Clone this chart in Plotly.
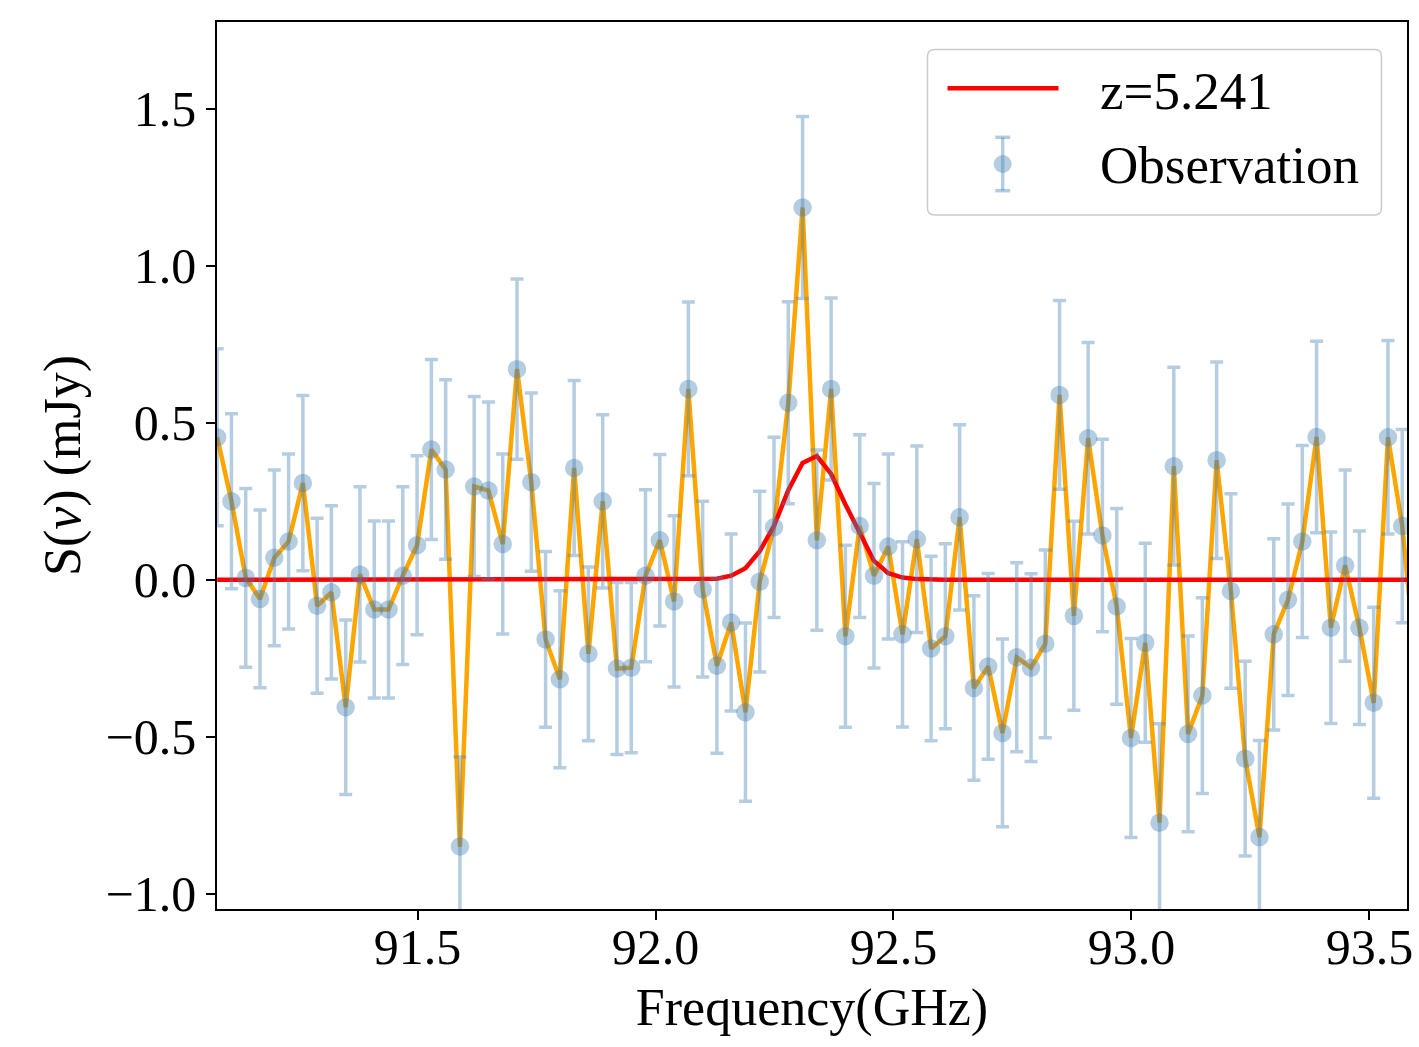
import plotly.graph_objects as go

# ---------------- data ----------------
freq_ghz = [
    91.079, 91.109, 91.139, 91.169, 91.199, 91.229, 91.259, 91.289, 91.319, 91.349,
    91.379, 91.409, 91.439, 91.469, 91.499, 91.529, 91.559, 91.589, 91.619, 91.649,
    91.679, 91.709, 91.739, 91.769, 91.799, 91.829, 91.859, 91.889, 91.919, 91.949,
    91.979, 92.009, 92.039, 92.069, 92.099, 92.129, 92.159, 92.189, 92.219, 92.249,
    92.279, 92.309, 92.339, 92.369, 92.399, 92.429, 92.459, 92.489, 92.519, 92.549,
    92.579, 92.609, 92.639, 92.669, 92.699, 92.729, 92.759, 92.789, 92.819, 92.849,
    92.879, 92.909, 92.939, 92.969, 92.999, 93.029, 93.059, 93.089, 93.119, 93.149,
    93.179, 93.209, 93.239, 93.269, 93.299, 93.329, 93.359, 93.389, 93.419, 93.449,
    93.479, 93.509, 93.539, 93.569, 93.599,
]

flux_mjy = [
    0.454, 0.250, 0.006, -0.061, 0.070, 0.122, 0.308, -0.083, -0.040, -0.406,
    0.017, -0.095, -0.095, 0.013, 0.110, 0.415, 0.351, -0.850, 0.297, 0.284,
    0.114, 0.671, 0.311, -0.190, -0.317, 0.356, -0.236, 0.250, -0.283, -0.280,
    0.013, 0.126, -0.069, 0.608, -0.030, -0.274, -0.136, -0.422, -0.006, 0.167,
    0.564, 1.186, 0.126, 0.608, -0.180, 0.171, 0.013, 0.106, -0.174, 0.129,
    -0.219, -0.180, 0.199, -0.345, -0.276, -0.488, -0.247, -0.280, -0.204, 0.589,
    -0.115, 0.451, 0.141, -0.085, -0.504, -0.201, -0.774, 0.362, -0.491, -0.369,
    0.381, -0.036, -0.570, -0.820, -0.174, -0.064, 0.122, 0.455, -0.153, 0.045,
    -0.153, -0.392, 0.454, 0.171, -0.290,
]

flux_err_mjy = [
    0.282, 0.279, 0.285, 0.283, 0.280, 0.279, 0.279, 0.279, 0.276, 0.278,
    0.279, 0.282, 0.282, 0.283, 0.285, 0.287, 0.286, 0.285, 0.287, 0.282,
    0.287, 0.287, 0.284, 0.280, 0.282, 0.279, 0.277, 0.276, 0.274, 0.271,
    0.274, 0.273, 0.273, 0.277, 0.280, 0.279, 0.282, 0.284, 0.288, 0.287,
    0.322, 0.290, 0.287, 0.290, 0.290, 0.291, 0.294, 0.295, 0.295, 0.297,
    0.294, 0.295, 0.295, 0.294, 0.296, 0.299, 0.301, 0.299, 0.299, 0.301,
    0.301, 0.305, 0.307, 0.312, 0.317, 0.317, 0.315, 0.315, 0.312, 0.312,
    0.313, 0.310, 0.310, 0.308, 0.305, 0.305, 0.306, 0.305, 0.305, 0.305,
    0.308, 0.304, 0.308, 0.308, 0.308,
]

model_mjy = [
    0.0, 0.0, 0.0, 0.0, 0.0, 0.0, 0.0, 0.0, 0.0, 0.0,
    0.0, 0.0, 0.0, 0.0, 0.0, 0.0, 0.0, 0.0, 0.0, 0.0,
    0.0, 0.0, 0.0, 0.0, 0.0, 0.0, 0.0, 0.0, 0.0, 0.0,
    0.0, 0.0, 0.0, 0.0, 0.001, 0.003, 0.013, 0.037, 0.091, 0.172,
    0.285, 0.372, 0.394, 0.337, 0.240, 0.150, 0.060, 0.021, 0.007, 0.002,
    0.0, 0.0, 0.0, 0.0, 0.0, 0.0, 0.0, 0.0, 0.0, 0.0,
    0.0, 0.0, 0.0, 0.0, 0.0, 0.0, 0.0, 0.0, 0.0, 0.0,
    0.0, 0.0, 0.0, 0.0, 0.0, 0.0, 0.0, 0.0, 0.0, 0.0,
    0.0, 0.0, 0.0, 0.0, 0.0,
]

x_tick_vals = [91.5, 92.0, 92.5, 93.0, 93.5]
x_tick_text = ["91.5", "92.0", "92.5", "93.0", "93.5"]
y_tick_vals = [-1.0, -0.5, 0.0, 0.5, 1.0, 1.5]
y_tick_text = ["\u22121.0", "\u22120.5", "0.0", "0.5", "1.0", "1.5"]
legend_labels = ["z=5.241", "Observation"]
x_title = "Frequency(GHz)"
y_title = "S(<i>\u03bd</i>) (mJy)"

# ---------------- styling / layout ----------------
FONT = "Liberation Serif"
FIG_W, FIG_H = 1419, 1047
M_L, M_R, M_T, M_B = 217, 12, 22, 138
PW = FIG_W - M_L - M_R
PH = FIG_H - M_T - M_B
OBS_COLOR = "rgba(70,130,180,0.4)"


def px_x(p):
    return (p - M_L) / PW


def px_y(p):
    return (FIG_H - M_B - p) / PH


fig = go.Figure()

fig.add_trace(go.Scatter(
    x=freq_ghz, y=flux_mjy, mode="lines",
    line=dict(color="orange", width=4.5), showlegend=False, hoverinfo="skip",
))
fig.add_trace(go.Scatter(
    x=freq_ghz, y=model_mjy, mode="lines", name=legend_labels[0],
    line=dict(color="red", width=4.5), showlegend=False,
))
fig.add_trace(go.Scatter(
    x=freq_ghz, y=flux_mjy, mode="markers", name=legend_labels[1],
    marker=dict(color=OBS_COLOR, size=18.5, line=dict(width=0)),
    error_y=dict(type="data", array=flux_err_mjy, visible=True,
                 color=OBS_COLOR, thickness=3.5, width=6.5),
    showlegend=False,
))

shapes = []
# legend box with rounded corners
bx0, bx1, by0, by1, r = 927.5, 1381.5, 49.5, 215.0, 7
path = (
    f"M {px_x(bx0 + r)},{px_y(by0)} L {px_x(bx1 - r)},{px_y(by0)} "
    f"Q {px_x(bx1)},{px_y(by0)} {px_x(bx1)},{px_y(by0 + r)} "
    f"L {px_x(bx1)},{px_y(by1 - r)} "
    f"Q {px_x(bx1)},{px_y(by1)} {px_x(bx1 - r)},{px_y(by1)} "
    f"L {px_x(bx0 + r)},{px_y(by1)} "
    f"Q {px_x(bx0)},{px_y(by1)} {px_x(bx0)},{px_y(by1 - r)} "
    f"L {px_x(bx0)},{px_y(by0 + r)} "
    f"Q {px_x(bx0)},{px_y(by0)} {px_x(bx0 + r)},{px_y(by0)} Z"
)
shapes.append(dict(type="path", xref="paper", yref="paper", path=path,
                   fillcolor="rgba(255,255,255,0.8)",
                   line=dict(color="rgb(204,204,204)", width=1.5), layer="above"))
# red line sample
shapes.append(dict(type="line", xref="paper", yref="paper",
                   x0=px_x(947.5), x1=px_x(1058.5), y0=px_y(88.3), y1=px_y(88.3),
                   line=dict(color="red", width=4.5), layer="above"))
# observation sample: error bar + caps + marker
mx, my, eh, cw = 1002.7, 164.0, 26.7, 7.5
shapes.append(dict(type="line", xref="paper", yref="paper",
                   x0=px_x(mx), x1=px_x(mx), y0=px_y(my - eh), y1=px_y(my + eh),
                   line=dict(color=OBS_COLOR, width=3.5), layer="above"))
for yy in (my - eh, my + eh):
    shapes.append(dict(type="line", xref="paper", yref="paper",
                       x0=px_x(mx - cw), x1=px_x(mx + cw), y0=px_y(yy), y1=px_y(yy),
                       line=dict(color=OBS_COLOR, width=3.5), layer="above"))
shapes.append(dict(type="circle", xref="paper", yref="paper",
                   x0=px_x(mx - 9), x1=px_x(mx + 9), y0=px_y(my - 9), y1=px_y(my + 9),
                   fillcolor=OBS_COLOR, line=dict(width=0), layer="above"))

annotations = [
    dict(text=legend_labels[0], xref="paper", yref="paper", x=px_x(1098), y=px_y(90.6),
         xanchor="left", yanchor="middle", showarrow=False,
         font=dict(family=FONT, size=53, color="black")),
    dict(text=legend_labels[1], xref="paper", yref="paper", x=px_x(1098), y=px_y(165),
         xanchor="left", yanchor="middle", showarrow=False,
         font=dict(family=FONT, size=53, color="black")),
]

axis_common = dict(
    showline=True, mirror=True, linecolor="black", linewidth=1.5,
    ticks="outside", ticklen=9, tickwidth=1.5, tickcolor="black",
    showgrid=False, zeroline=False,
    tickfont=dict(family=FONT, size=50, color="black"),
)

fig.update_layout(
    width=FIG_W, height=FIG_H,
    margin=dict(l=M_L, r=M_R, t=M_T, b=M_B, pad=0),
    paper_bgcolor="white", plot_bgcolor="white",
    font=dict(family=FONT, color="black"),
    showlegend=False,
    xaxis=dict(range=[91.0786, 93.579], tickvals=x_tick_vals, ticktext=x_tick_text,
               ticklabelstandoff=-16,
               title=dict(text=x_title, font=dict(family=FONT, size=52), standoff=15),
               automargin=False, **axis_common),
    yaxis=dict(range=[-1.049, 1.777], tickvals=y_tick_vals, ticktext=y_tick_text,
               title=dict(text=y_title, font=dict(family=FONT, size=52), standoff=8),
               automargin=False, **axis_common),
    shapes=shapes,
    annotations=annotations,
)

fig.write_html("out.html")
